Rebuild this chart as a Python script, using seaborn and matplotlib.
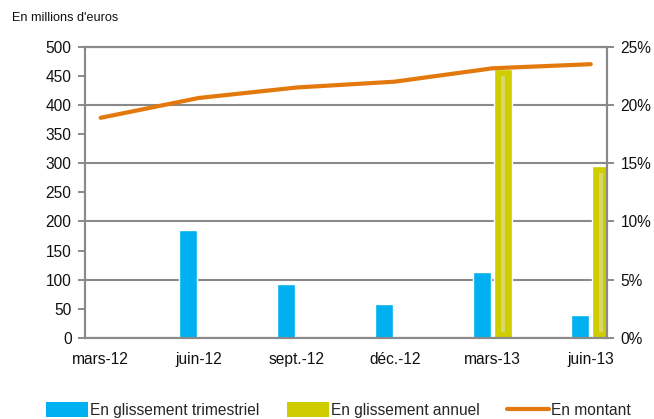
import numpy as np
import pandas as pd
import matplotlib
matplotlib.use("Agg")
import matplotlib.pyplot as plt
from matplotlib.patches import Patch, Rectangle
from matplotlib.lines import Line2D
import seaborn as sns

# ---- données ----
categories = ['mars-12', 'juin-12', 'sept.-12', 'déc.-12', 'mars-13', 'juin-13']
montant = [378, 412, 430, 440, 463, 470]               # en millions d'euros (axe gauche)
trimestriel = [np.nan, 9.3, 4.6, 2.9, 5.7, 2.0]        # en % (axe droit)
annuel = [np.nan, np.nan, np.nan, np.nan, 23.1, 14.8]  # en % (axe droit)

series = ['En glissement trimestriel', 'En glissement annuel']
couleurs = ['#00B0F0', '#CFCC00']
orange = '#E3790C'
gris = '#8A8A8A'

sns.set_style('white')
plt.rcParams['font.family'] = ['Liberation Sans', 'DejaVu Sans']

# tableau long pour seaborn
df = pd.DataFrame({
    'cat': categories * 2,
    'serie': [series[0]] * len(categories) + [series[1]] * len(categories),
    'val': trimestriel + annuel,
}).dropna()

fig = plt.figure(figsize=(6.54, 4.19), dpi=100)
ax = fig.add_axes([0.1307, 0.1933, 0.7967, 0.6952])
ax2 = ax.twinx()

# barres sur l'axe de droite (%)
sns.barplot(data=df, x='cat', y='val', hue='serie', order=categories,
            hue_order=series, palette=couleurs, saturation=1,
            width=0.43, gap=0.16, errorbar=None, legend=False, ax=ax2)

# petit reflet clair au milieu des barres jaunes (effet Excel)
for p in list(ax2.patches):
    if np.allclose(p.get_facecolor()[:3], matplotlib.colors.to_rgb(couleurs[1])):
        x0, w, h = p.get_x(), p.get_width(), p.get_height()
        ax2.add_patch(Rectangle((x0 + w * 0.38, 0.5), w * 0.24, h - 1.1,
                                facecolor='#D9D66E', edgecolor='none', zorder=p.get_zorder()))

# courbe sur l'axe de gauche
x = np.arange(len(categories))
sns.lineplot(x=x, y=montant, ax=ax, color=orange, linewidth=3,
             solid_capstyle='round', legend=False)

# ordre d'affichage : la courbe au-dessus des barres
ax.set_zorder(ax2.get_zorder() + 1)
ax.patch.set_visible(False)

ax.set_ylim(0, 500)
ax.set_yticks(range(0, 501, 50))
ax2.set_ylim(0, 25)
ax2.set_yticks(range(0, 26, 5))
ax2.set_yticklabels([f'{v}%' for v in range(0, 26, 5)])

ax.set_xlim(-0.155, 5.161)
ax.set_xticks(x)
ax.set_xticklabels(categories)
ax.set_xticks(x - 0.155, minor=True)
ax.tick_params(axis='x', which='major', length=0, pad=10, labelsize=11.2, colors='#111111')
ax.tick_params(axis='x', which='minor', length=4, width=1.4, color=gris, direction='out')
ax.tick_params(axis='y', length=5, width=1.4, color=gris, pad=5, labelsize=11.2,
               labelcolor='#111111', direction='out')
ax2.tick_params(axis='y', length=5, width=1.4, color=gris, pad=5, labelsize=11.2,
                labelcolor='#111111', direction='out')

ax.set_xlabel('')
ax.set_ylabel('')
ax2.set_xlabel('')
ax2.set_ylabel('')

# quadrillage horizontal (tous les 5 %)
ax2.grid(axis='y', color=gris, linewidth=1.5)
ax2.set_axisbelow(True)
ax.grid(False)

for a in (ax, ax2):
    for s in a.spines.values():
        s.set_color(gris)
        s.set_linewidth(1.5)

fig.text(12 / 654, 1 - 18 / 419, "En millions d'euros", fontsize=9.1,
         va='center', ha='left', color='#111111')

handles = [Patch(facecolor=couleurs[0], edgecolor='none'),
           Patch(facecolor=couleurs[1], edgecolor='none'),
           Line2D([], [], color=orange, linewidth=3)]
fig.legend(handles, series + ['En montant'], loc='center', ncol=3,
           bbox_to_anchor=(0.5176, 1 - 410 / 419), frameon=False,
           fontsize=11.2, handlelength=2.7, handleheight=1.1,
           handletextpad=0.1, columnspacing=1.8)

fig.savefig('out.png', dpi=100)
